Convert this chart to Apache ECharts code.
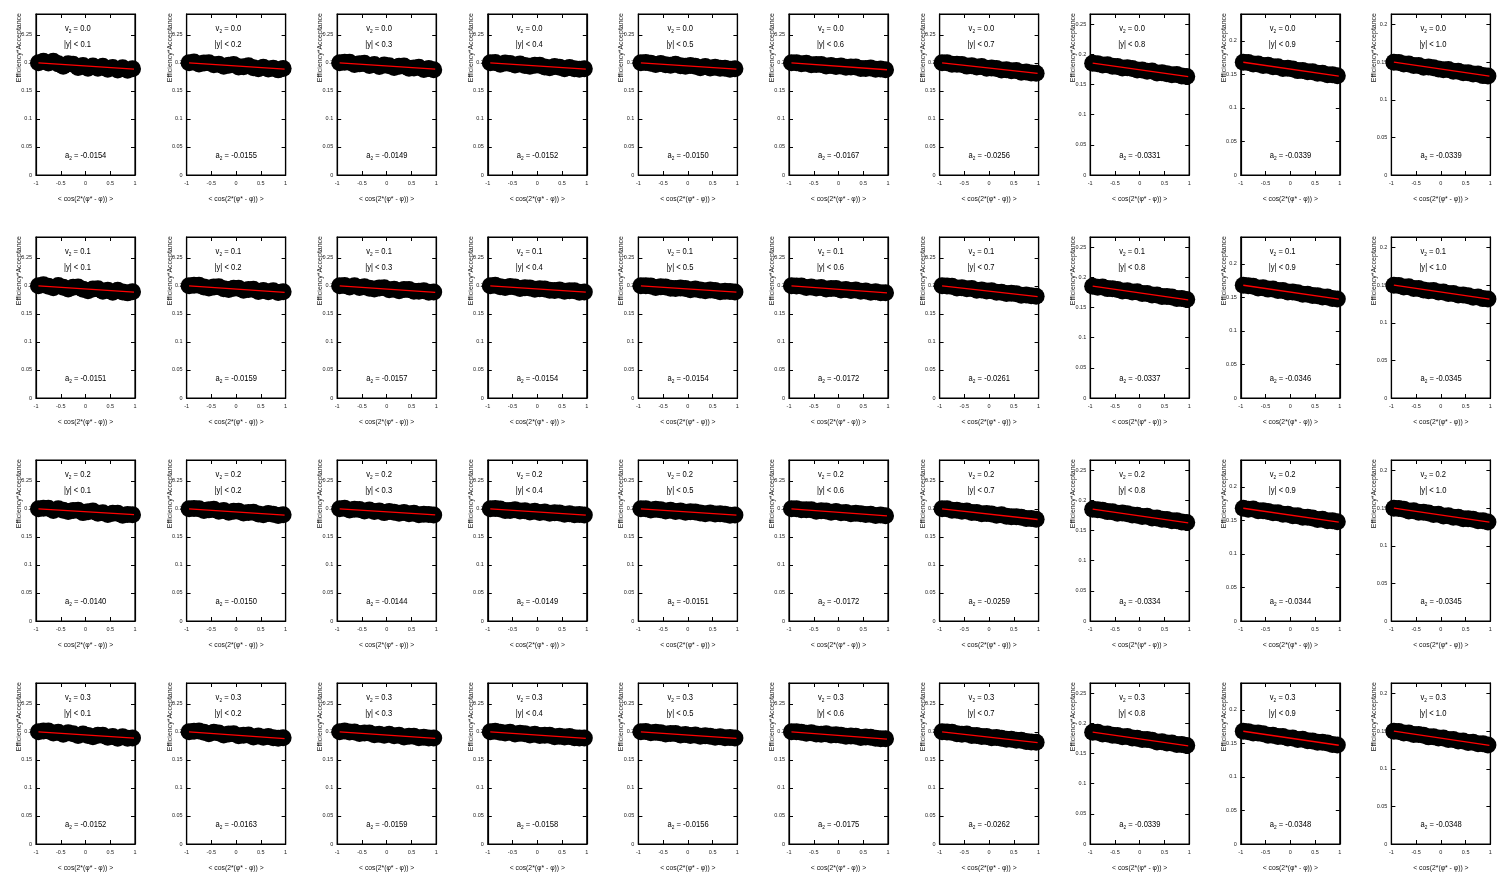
<!DOCTYPE html>
<html>
<head>
<meta charset="utf-8">
<script src="https://cdn.jsdelivr.net/npm/echarts@6/dist/echarts.min.js"></script>
<style>
html,body{margin:0;padding:0;background:#fff;}
#chart{width:1510px;height:891px;}
</style>
</head>
<body>
<div id="chart"></div>
<script>
// ---------------- DATA ----------------
const xPoints = [-0.95,-0.85,-0.75,-0.65,-0.55,-0.45,-0.35,-0.25,-0.15,-0.05,0.05,0.15,0.25,0.35,0.45,0.55,0.65,0.75,0.85,0.95];
const fitX = [-0.95, 0.98];
const v2Labels = ['0.0','0.1','0.2','0.3'];
const yCutLabels = ['0.1','0.2','0.3','0.4','0.5','0.6','0.7','0.8','0.9','1.0'];
const yMaxByColumn = [0.287,0.287,0.287,0.287,0.287,0.287,0.287,0.267,0.240,0.214];
const yTickStep = 0.05;
const xTickStep = 0.5;

const a2Row0 = ['-0.0154','-0.0155','-0.0149','-0.0152','-0.0150','-0.0167','-0.0256','-0.0331','-0.0339','-0.0339'];
const a2Row1 = ['-0.0151','-0.0159','-0.0157','-0.0154','-0.0154','-0.0172','-0.0261','-0.0337','-0.0346','-0.0345'];
const a2Row2 = ['-0.0140','-0.0150','-0.0144','-0.0149','-0.0151','-0.0172','-0.0259','-0.0334','-0.0344','-0.0345'];
const a2Row3 = ['-0.0152','-0.0163','-0.0159','-0.0158','-0.0156','-0.0175','-0.0262','-0.0339','-0.0348','-0.0348'];

// fit line values at fitX ends
const fitRow0 = [[0.2000,0.1887],[0.2000,0.1886],[0.2000,0.1889],[0.2000,0.1887],[0.2000,0.1888],[0.2000,0.1876],[0.2000,0.1811],[0.1854,0.1630],[0.1681,0.1475],[0.1499,0.1314]];
const fitRow1 = [[0.2000,0.1889],[0.2000,0.1882],[0.2000,0.1883],[0.2000,0.1886],[0.2000,0.1886],[0.2000,0.1873],[0.2000,0.1808],[0.1854,0.1627],[0.1681,0.1473],[0.1499,0.1313]];
const fitRow2 = [[0.2000,0.1895],[0.2000,0.1888],[0.2000,0.1892],[0.2000,0.1889],[0.2000,0.1888],[0.2000,0.1873],[0.2000,0.1809],[0.1854,0.1629],[0.1681,0.1474],[0.1499,0.1313]];
const fitRow3 = [[0.2000,0.1887],[0.2000,0.1879],[0.2000,0.1882],[0.2000,0.1883],[0.2000,0.1884],[0.2000,0.1871],[0.2000,0.1807],[0.1854,0.1627],[0.1681,0.1472],[0.1499,0.1312]];

const effRow0 = [
 [0.2000,0.2029,0.1998,0.2027,0.1981,0.1940,0.1985,0.1974,0.1918,0.1952,0.1901,0.1945,0.1904,0.1938,0.1887,0.1916,0.1871,0.1910,0.1869,0.1893],
 [0.2000,0.2014,0.1978,0.1997,0.2001,0.1965,0.1975,0.1939,0.1958,0.1972,0.1926,0.1930,0.1949,0.1913,0.1892,0.1921,0.1891,0.1905,0.1874,0.1898],
 [0.2000,0.2009,0.2008,0.1972,0.1981,0.1990,0.1950,0.1969,0.1933,0.1962,0.1946,0.1915,0.1939,0.1943,0.1902,0.1906,0.1921,0.1880,0.1899,0.1878],
 [0.2000,0.2004,0.1973,0.1997,0.1986,0.1960,0.1980,0.1954,0.1938,0.1957,0.1956,0.1925,0.1914,0.1933,0.1922,0.1896,0.1916,0.1895,0.1884,0.1893],
 [0.2000,0.2004,0.1993,0.1972,0.1986,0.1965,0.1955,0.1974,0.1948,0.1937,0.1951,0.1940,0.1914,0.1933,0.1907,0.1921,0.1901,0.1905,0.1884,0.1893],
 [0.2000,0.2003,0.1982,0.1990,0.1964,0.1972,0.1971,0.1944,0.1953,0.1936,0.1945,0.1919,0.1927,0.1926,0.1899,0.1898,0.1906,0.1885,0.1888,0.1877],
 [0.2000,0.2000,0.1975,0.1976,0.1971,0.1941,0.1946,0.1926,0.1932,0.1902,0.1907,0.1897,0.1872,0.1878,0.1858,0.1863,0.1833,0.1838,0.1819,0.1814],
 [0.1854,0.1847,0.1826,0.1829,0.1803,0.1801,0.1775,0.1778,0.1766,0.1740,0.1743,0.1722,0.1725,0.1693,0.1697,0.1680,0.1664,0.1667,0.1641,0.1634],
 [0.1681,0.1678,0.1655,0.1654,0.1633,0.1636,0.1612,0.1612,0.1588,0.1590,0.1580,0.1556,0.1558,0.1538,0.1540,0.1516,0.1516,0.1495,0.1494,0.1478],
 [0.1499,0.1497,0.1475,0.1475,0.1456,0.1456,0.1433,0.1437,0.1427,0.1408,0.1398,0.1401,0.1379,0.1379,0.1360,0.1360,0.1341,0.1341,0.1321,0.1317]
];
const effRow1 = [
 [0.2000,0.2019,0.1993,0.1967,0.2006,0.1975,0.1945,0.1974,0.1978,0.1937,0.1911,0.1945,0.1949,0.1903,0.1922,0.1886,0.1921,0.1890,0.1874,0.1893],
 [0.2000,0.2009,0.2008,0.1977,0.1961,0.1980,0.1985,0.1949,0.1933,0.1957,0.1956,0.1920,0.1934,0.1938,0.1897,0.1916,0.1896,0.1910,0.1879,0.1893],
 [0.2000,0.2004,0.1978,0.2002,0.1971,0.1985,0.1955,0.1944,0.1963,0.1967,0.1931,0.1940,0.1914,0.1933,0.1932,0.1901,0.1901,0.1910,0.1884,0.1888],
 [0.2000,0.2009,0.1983,0.1972,0.1986,0.1980,0.1950,0.1964,0.1963,0.1937,0.1946,0.1945,0.1919,0.1918,0.1927,0.1901,0.1911,0.1910,0.1884,0.1888],
 [0.2000,0.1999,0.1998,0.1972,0.1981,0.1980,0.1955,0.1954,0.1963,0.1952,0.1931,0.1945,0.1924,0.1913,0.1927,0.1916,0.1896,0.1905,0.1899,0.1888],
 [0.2000,0.1998,0.1997,0.1970,0.1979,0.1962,0.1971,0.1944,0.1953,0.1951,0.1925,0.1934,0.1917,0.1926,0.1904,0.1908,0.1886,0.1895,0.1878,0.1877],
 [0.2000,0.1995,0.1990,0.1961,0.1966,0.1946,0.1951,0.1921,0.1927,0.1907,0.1912,0.1887,0.1887,0.1863,0.1868,0.1858,0.1833,0.1838,0.1824,0.1812],
 [0.1854,0.1837,0.1841,0.1814,0.1813,0.1801,0.1775,0.1778,0.1756,0.1760,0.1733,0.1732,0.1710,0.1708,0.1682,0.1685,0.1674,0.1652,0.1651,0.1633],
 [0.1681,0.1675,0.1665,0.1641,0.1643,0.1623,0.1625,0.1602,0.1601,0.1580,0.1580,0.1569,0.1545,0.1548,0.1527,0.1526,0.1506,0.1505,0.1484,0.1476],
 [0.1499,0.1494,0.1475,0.1478,0.1456,0.1456,0.1436,0.1427,0.1430,0.1408,0.1408,0.1388,0.1389,0.1369,0.1370,0.1360,0.1338,0.1341,0.1321,0.1316]
];
const effRow2 = [
 [0.2000,0.2009,0.2008,0.1972,0.2001,0.1975,0.1950,0.1969,0.1973,0.1932,0.1946,0.1960,0.1919,0.1928,0.1897,0.1921,0.1921,0.1885,0.1899,0.1893],
 [0.2000,0.2004,0.2003,0.1972,0.1981,0.1990,0.1955,0.1969,0.1938,0.1957,0.1956,0.1925,0.1934,0.1938,0.1907,0.1896,0.1916,0.1905,0.1879,0.1893],
 [0.2000,0.2009,0.1978,0.1992,0.1986,0.1960,0.1980,0.1954,0.1963,0.1932,0.1951,0.1940,0.1919,0.1933,0.1912,0.1921,0.1896,0.1905,0.1899,0.1888],
 [0.2000,0.2004,0.1998,0.1972,0.1971,0.1985,0.1960,0.1964,0.1943,0.1957,0.1936,0.1945,0.1919,0.1928,0.1927,0.1901,0.1911,0.1895,0.1899,0.1888],
 [0.2000,0.1999,0.1978,0.1992,0.1981,0.1960,0.1975,0.1954,0.1963,0.1937,0.1946,0.1945,0.1924,0.1913,0.1927,0.1906,0.1911,0.1905,0.1884,0.1888],
 [0.2000,0.2003,0.1982,0.1985,0.1984,0.1957,0.1966,0.1959,0.1938,0.1951,0.1930,0.1934,0.1912,0.1921,0.1914,0.1898,0.1901,0.1880,0.1888,0.1877],
 [0.2000,0.2000,0.1975,0.1976,0.1956,0.1961,0.1936,0.1936,0.1912,0.1917,0.1907,0.1887,0.1892,0.1868,0.1858,0.1858,0.1848,0.1828,0.1829,0.1814],
 [0.1854,0.1847,0.1836,0.1814,0.1813,0.1786,0.1790,0.1778,0.1756,0.1755,0.1733,0.1737,0.1710,0.1708,0.1687,0.1685,0.1664,0.1662,0.1641,0.1634],
 [0.1681,0.1665,0.1668,0.1644,0.1643,0.1633,0.1612,0.1612,0.1591,0.1593,0.1570,0.1569,0.1548,0.1548,0.1537,0.1513,0.1516,0.1495,0.1494,0.1478],
 [0.1499,0.1494,0.1485,0.1462,0.1466,0.1446,0.1446,0.1437,0.1417,0.1418,0.1395,0.1398,0.1379,0.1379,0.1360,0.1360,0.1351,0.1331,0.1331,0.1317]
];
const effRow3 = [
 [0.2000,0.2014,0.2013,0.1977,0.1991,0.1955,0.1985,0.1964,0.1933,0.1962,0.1936,0.1910,0.1939,0.1938,0.1902,0.1916,0.1886,0.1910,0.1884,0.1888],
 [0.2000,0.2009,0.2013,0.1992,0.1966,0.1990,0.1980,0.1944,0.1963,0.1967,0.1931,0.1940,0.1944,0.1908,0.1927,0.1901,0.1916,0.1895,0.1884,0.1893],
 [0.2000,0.2014,0.1998,0.1997,0.1971,0.1980,0.1980,0.1949,0.1958,0.1937,0.1956,0.1930,0.1939,0.1908,0.1922,0.1921,0.1896,0.1905,0.1889,0.1888],
 [0.2000,0.2009,0.1993,0.1977,0.1991,0.1960,0.1975,0.1964,0.1943,0.1957,0.1936,0.1940,0.1939,0.1913,0.1922,0.1906,0.1916,0.1895,0.1889,0.1888],
 [0.2000,0.2004,0.1983,0.1992,0.1981,0.1960,0.1970,0.1969,0.1943,0.1952,0.1936,0.1945,0.1919,0.1928,0.1922,0.1901,0.1911,0.1895,0.1899,0.1888],
 [0.2000,0.2003,0.1992,0.1975,0.1984,0.1962,0.1956,0.1964,0.1943,0.1946,0.1940,0.1919,0.1927,0.1921,0.1899,0.1908,0.1901,0.1885,0.1878,0.1877],
 [0.2000,0.1995,0.1990,0.1966,0.1956,0.1961,0.1936,0.1936,0.1917,0.1917,0.1892,0.1897,0.1887,0.1868,0.1868,0.1848,0.1848,0.1828,0.1819,0.1812],
 [0.1854,0.1852,0.1826,0.1824,0.1803,0.1801,0.1780,0.1783,0.1756,0.1755,0.1733,0.1732,0.1720,0.1693,0.1697,0.1675,0.1674,0.1652,0.1651,0.1633],
 [0.1681,0.1675,0.1655,0.1654,0.1643,0.1620,0.1622,0.1602,0.1601,0.1580,0.1580,0.1559,0.1561,0.1538,0.1537,0.1516,0.1516,0.1505,0.1484,0.1476],
 [0.1499,0.1494,0.1475,0.1475,0.1456,0.1456,0.1446,0.1424,0.1427,0.1408,0.1408,0.1388,0.1389,0.1369,0.1370,0.1350,0.1351,0.1331,0.1331,0.1316]
];

const xTitle = '< cos(2*(\u03C6* - \u03C6)) >';
const yTitle = 'Efficiency*Acceptance';

// ---------------- LAYOUT ----------------
const effRows = [effRow0, effRow1, effRow2, effRow3];
const fitRows = [fitRow0, fitRow1, fitRow2, fitRow3];
const a2Rows = [a2Row0, a2Row1, a2Row2, a2Row3];

const FONT = 'Liberation Sans, Arial, Helvetica, sans-serif';
const L0 = 36, DX = 150.6, PW = 99;
const T0 = 14, DY = 223, PH = 161;

const grids = [], xAxes = [], yAxes = [], series = [], graphics = [];

for (let r = 0; r < 4; r++) {
  for (let c = 0; c < 10; c++) {
    const k = r * 10 + c;
    const left = L0 + c * DX;
    const top = T0 + r * DY;
    grids.push({left: left, top: top, width: PW, height: PH, show: true,
      borderColor: '#000', borderWidth: 1.2, backgroundColor: 'transparent', containLabel: false});
    const xBase = {
      type: 'value', gridIndex: k, min: -1, max: 1, interval: xTickStep,
      axisLine: {show: true, onZero: false, lineStyle: {color: '#000', width: 1.2}},
      axisTick: {show: true, inside: true, length: 4, lineStyle: {color: '#000'}},
      splitLine: {show: false}
    };
    xAxes.push(Object.assign({}, xBase, {position: 'bottom',
      axisLabel: {fontSize: 5.5, color: '#222', margin: 5, fontFamily: FONT},
      name: xTitle, nameLocation: 'middle', nameGap: 21,
      nameTextStyle: {fontSize: 6.8, color: '#111', fontFamily: FONT}}));
    xAxes.push(Object.assign({}, xBase, {position: 'top', axisLabel: {show: false}}));
    const yBase = {
      type: 'value', gridIndex: k, min: 0, max: yMaxByColumn[c], interval: yTickStep,
      axisLine: {show: true, onZero: false, lineStyle: {color: '#000', width: 1.2}},
      axisTick: {show: true, inside: true, length: 4, lineStyle: {color: '#000'}},
      splitLine: {show: false}
    };
    yAxes.push(Object.assign({}, yBase, {position: 'left',
      axisLabel: {fontSize: 5.5, color: '#222', margin: 4, showMaxLabel: false, fontFamily: FONT}}));
    yAxes.push(Object.assign({}, yBase, {position: 'right', axisLabel: {show: false}}));

    series.push({
      type: 'scatter', xAxisIndex: 2 * k, yAxisIndex: 2 * k,
      data: xPoints.map((x, i) => [x, effRows[r][c][i]]),
      symbol: 'circle', symbolSize: 17, itemStyle: {color: '#000', opacity: 1},
      silent: true, clip: false, z: 2
    });
    series.push({
      type: 'line', xAxisIndex: 2 * k, yAxisIndex: 2 * k,
      data: [[fitX[0], fitRows[r][c][0]], [fitX[1], fitRows[r][c][1]]],
      symbol: 'none', lineStyle: {color: '#ff0000', width: 1.3}, silent: true, z: 3
    });

    const rich = {
      n: {fontSize: 9.5, fontFamily: FONT, color: '#000', lineHeight: 13},
      s: {fontSize: 6, fontFamily: FONT, color: '#000', lineHeight: 13, padding: [5, 0, 0, 0]}
    };
    graphics.push({type: 'text', x: left + 29, y: top + 8, scaleX: 0.8, z: 10,
      style: {text: '{n|v}{s|2}{n| = ' + v2Labels[r] + '}', rich: rich}});
    graphics.push({type: 'text', x: left + 28, y: top + 24, scaleX: 0.8, z: 10,
      style: {text: '{n||y| < ' + yCutLabels[c] + '}', rich: rich}});
    graphics.push({type: 'text', x: left + 29, y: top + 135, scaleX: 0.8, z: 10,
      style: {text: '{n|a}{s|2}{n| = ' + a2Rows[r][c] + '}', rich: rich}});
    graphics.push({type: 'text', x: left - 17, y: top - 1, rotation: Math.PI / 2, z: 10,
      style: {text: yTitle, fontSize: 7, fontFamily: FONT, fill: '#111', align: 'right', verticalAlign: 'middle'}});
  }
}

const chart = echarts.init(document.getElementById('chart'), null, {renderer: 'canvas'});
chart.setOption({
  backgroundColor: '#fff',
  animation: false,
  grid: grids,
  xAxis: xAxes,
  yAxis: yAxes,
  series: series,
  graphic: graphics
});
</script>
</body>
</html>
